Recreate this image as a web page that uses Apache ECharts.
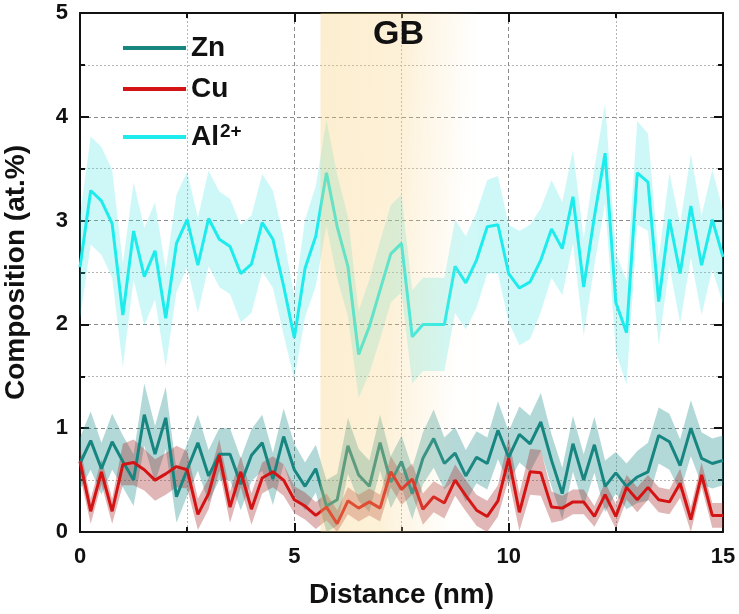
<!DOCTYPE html>
<html>
<head>
<meta charset="utf-8">
<script src="https://cdn.jsdelivr.net/npm/echarts@6/dist/echarts.min.js"></script>
<style>html,body{margin:0;padding:0;background:#fff;}#c{width:739px;height:614px;}</style>
</head>
<body>
<div id="c"></div>
<script>
const distance = [0,0.25,0.5,0.75,1,1.25,1.5,1.75,2,2.25,2.5,2.75,3,3.25,3.5,3.75,4,4.25,4.5,4.75,5,5.25,5.5,5.75,6,6.25,6.5,6.75,7,7.25,7.5,7.75,8,8.25,8.5,8.75,9,9.25,9.5,9.75,10,10.25,10.5,10.75,11,11.25,11.5,11.75,12,12.25,12.5,12.75,13,13.25,13.5,13.75,14,14.25,14.5,14.75,15];

const zn = [0.66,0.88,0.61,0.87,0.68,0.50,1.13,0.75,1.10,0.34,0.60,0.86,0.54,0.75,0.75,0.46,0.74,0.86,0.51,0.92,0.60,0.44,0.61,0.25,0.31,0.83,0.55,0.44,0.86,0.48,0.68,0.37,0.71,0.90,0.66,0.76,0.54,0.72,0.66,0.98,0.72,0.94,0.85,1.06,0.69,0.37,0.85,0.50,0.84,0.44,0.57,0.44,0.53,0.58,0.93,0.87,0.64,1.00,0.71,0.66,0.69];
const znErr = [0.25,0.28,0.25,0.27,0.25,0.25,0.30,0.27,0.30,0.25,0.25,0.27,0.25,0.25,0.25,0.25,0.25,0.27,0.25,0.27,0.25,0.23,0.23,0.25,0.25,0.27,0.25,0.25,0.27,0.25,0.25,0.25,0.25,0.28,0.25,0.25,0.25,0.25,0.25,0.28,0.25,0.27,0.27,0.28,0.25,0.25,0.27,0.25,0.27,0.25,0.20,0.22,0.25,0.28,0.27,0.27,0.25,0.27,0.25,0.24,0.24];

const cu = [0.68,0.20,0.58,0.20,0.65,0.67,0.60,0.50,0.56,0.63,0.60,0.17,0.37,0.74,0.24,0.58,0.22,0.52,0.58,0.50,0.31,0.25,0.16,0.24,0.08,0.30,0.23,0.29,0.23,0.58,0.41,0.51,0.22,0.34,0.28,0.50,0.35,0.21,0.15,0.30,0.71,0.19,0.58,0.57,0.24,0.23,0.29,0.29,0.15,0.36,0.15,0.43,0.31,0.43,0.31,0.29,0.47,0.12,0.55,0.16,0.16];
const cuErr = [0.14,0.12,0.12,0.12,0.20,0.22,0.20,0.20,0.20,0.20,0.18,0.15,0.15,0.15,0.15,0.15,0.15,0.15,0.15,0.15,0.13,0.13,0.13,0.13,0.13,0.13,0.13,0.13,0.13,0.15,0.15,0.15,0.15,0.15,0.15,0.15,0.15,0.15,0.15,0.15,0.20,0.18,0.22,0.22,0.15,0.12,0.12,0.12,0.10,0.12,0.12,0.12,0.12,0.12,0.12,0.12,0.14,0.12,0.12,0.12,0.12];

const al = [2.55,3.29,3.19,2.97,2.09,2.90,2.46,2.71,2.06,2.78,3.01,2.57,3.02,2.82,2.75,2.49,2.58,2.98,2.82,2.37,1.87,2.54,2.85,3.46,2.94,2.56,1.71,1.98,2.33,2.68,2.78,1.88,2.00,2.00,2.00,2.56,2.40,2.62,2.94,2.96,2.49,2.35,2.41,2.62,2.92,2.73,3.23,2.36,3.04,3.65,2.21,1.92,3.46,3.37,2.22,3.01,2.49,3.14,2.57,3.01,2.65];
const alErr = [0.50,0.52,0.52,0.52,0.50,0.47,0.47,0.47,0.47,0.47,0.46,0.46,0.46,0.46,0.46,0.47,0.47,0.47,0.47,0.47,0.40,0.47,0.48,0.51,0.50,0.48,0.42,0.45,0.47,0.47,0.47,0.45,0.45,0.45,0.45,0.45,0.45,0.46,0.45,0.47,0.47,0.55,0.55,0.50,0.47,0.45,0.45,0.47,0.47,0.48,0.48,0.50,0.50,0.47,0.42,0.45,0.48,0.50,0.48,0.48,0.45];

const gbStart = 5.61;
const gbEnd = 9.25;
const gbLabel = 'GB';

const FONT = "'Liberation Sans', Arial, sans-serif";
const chart = echarts.init(document.getElementById('c'), null, {renderer: 'canvas'});

function bandSeries(name, vals, errs, fill) {
  return {
    type: 'custom', name: name, silent: true, z: 1,
    data: [[0, 0]],
    encode: {x: 0, y: 1},
    renderItem: function (params, api) {
      const up = distance.map((x, i) => api.coord([x, vals[i] + errs[i]]));
      const lo = distance.map((x, i) => api.coord([x, Math.max(0, vals[i] - errs[i])])).reverse();
      return {type: 'polygon', shape: {points: up.concat(lo)}, style: {fill: fill}, silent: true};
    }
  };
}
function lineSeries(name, vals, color) {
  return {
    type: 'line', name: name, z: 3,
    data: distance.map((x, i) => [x, vals[i]]),
    symbol: 'none', showSymbol: false,
    lineStyle: {color: color, width: 3},
    itemStyle: {color: color},
    animation: false
  };
}

const legendBase = {
  orient: 'vertical', left: 123, padding: 0, itemWidth: 63, itemHeight: 4, icon: 'rect',
  selectedMode: false,
  textStyle: {fontSize: 28, fontWeight: 'bold', fontFamily: FONT, color: '#111', lineHeight: 30}
};

const option = {
  animation: false,
  backgroundColor: '#fff',
  grid: {left: 80, right: 16, top: 13, bottom: 82, containLabel: false, outerBoundsMode: 'none'},
  legend: [
    Object.assign({}, legendBase, {data: ['Zn'], top: 33}),
    Object.assign({}, legendBase, {data: ['Cu'], top: 74}),
    Object.assign({}, legendBase, {data: ['Al2+'], top: 122,
      formatter: function () { return '{a|Al}{s|2+}'; },
      textStyle: {fontSize: 28, fontWeight: 'bold', fontFamily: FONT, color: '#111', lineHeight: 30,
        rich: {
          a: {fontSize: 28, fontWeight: 'bold', fontFamily: FONT, color: '#111', lineHeight: 30},
          s: {fontSize: 19, fontWeight: 'bold', fontFamily: FONT, color: '#111', lineHeight: 18, verticalAlign: 'top', padding: [0, 0, 0, 1]}
        }}
    })
  ],
  xAxis: [
    {
      type: 'value', min: 0, max: 15, interval: 5, position: 'bottom',
      name: 'Distance (nm)', nameLocation: 'middle', nameGap: 49,
      nameTextStyle: {fontSize: 28, fontWeight: 'bold', fontFamily: FONT, color: '#111'},
      axisLine: {show: true, onZero: false, lineStyle: {color: '#111', width: 2}},
      axisTick: {show: true, inside: true, length: 9, lineStyle: {color: '#111', width: 2}},
      minorTick: {show: true, splitNumber: 2, length: 5, lineStyle: {color: '#111', width: 2}},
      axisLabel: {fontSize: 22, fontWeight: 'bold', fontFamily: FONT, color: '#111', margin: 14},
      splitLine: {show: true, lineStyle: {color: '#8a8a8a', width: 1, type: [4, 3]}},
      minorSplitLine: {show: true, lineStyle: {color: '#b5b5b5', width: 1, type: [2, 2]}}
    },
    {
      type: 'value', min: 0, max: 15, interval: 5, position: 'top',
      axisLine: {show: true, onZero: false, lineStyle: {color: '#111', width: 2}},
      axisTick: {show: true, inside: true, length: 9, lineStyle: {color: '#111', width: 2}},
      minorTick: {show: true, splitNumber: 2, length: 5, lineStyle: {color: '#111', width: 2}},
      axisLabel: {show: false}, splitLine: {show: false}
    }
  ],
  yAxis: [
    {
      type: 'value', min: 0, max: 5, interval: 1, position: 'left',
      name: 'Composition (at.%)', nameLocation: 'middle', nameGap: 50,
      nameTextStyle: {fontSize: 28, fontWeight: 'bold', fontFamily: FONT, color: '#111'},
      axisLine: {show: true, onZero: false, lineStyle: {color: '#111', width: 2}},
      axisTick: {show: true, inside: true, length: 9, lineStyle: {color: '#111', width: 2}},
      minorTick: {show: true, splitNumber: 2, length: 5, lineStyle: {color: '#111', width: 2}},
      axisLabel: {fontSize: 22, fontWeight: 'bold', fontFamily: FONT, color: '#111', margin: 12},
      splitLine: {show: true, lineStyle: {color: '#8a8a8a', width: 1, type: [4, 3]}},
      minorSplitLine: {show: true, lineStyle: {color: '#b5b5b5', width: 1, type: [2, 2]}}
    },
    {
      type: 'value', min: 0, max: 5, interval: 1, position: 'right',
      axisLine: {show: true, onZero: false, lineStyle: {color: '#111', width: 2}},
      axisTick: {show: true, inside: true, length: 9, lineStyle: {color: '#111', width: 2}},
      minorTick: {show: true, splitNumber: 2, length: 5, lineStyle: {color: '#111', width: 2}},
      axisLabel: {show: false}, splitLine: {show: false}
    }
  ],
  series: [
    bandSeries('alBand', al, alErr, 'rgba(60,228,228,0.25)'),
    bandSeries('znBand', zn, znErr, 'rgba(30,140,140,0.34)'),
    bandSeries('cuBand', cu, cuErr, 'rgba(165,40,40,0.34)'),
    lineSeries('Zn', zn, '#178580'),
    lineSeries('Cu', cu, '#d41414'),
    lineSeries('Al2+', al, '#1eecec'),
    {
      type: 'custom', name: 'GB', silent: true, z: 6,
      data: [[gbStart, gbEnd]],
      encode: {x: [0, 1]},
      renderItem: function (params, api) {
        const p0 = api.coord([api.value(0), 5]);
        const p1 = api.coord([api.value(1), 0]);
        const w = p1[0] - p0[0], h = p1[1] - p0[1];
        return {
          type: 'group',
          children: [
            {type: 'rect', shape: {x: p0[0], y: p0[1], width: w, height: h},
              style: {fill: {
                type: 'linear', global: true,
                x: p0[0], y: p0[1], x2: p1[0], y2: p0[1] + 8,
                colorStops: [
                  {offset: 0, color: 'rgba(246,204,115,0.34)'},
                  {offset: 0.55, color: 'rgba(247,208,125,0.30)'},
                  {offset: 0.85, color: 'rgba(250,220,160,0.14)'},
                  {offset: 1, color: 'rgba(255,235,200,0.03)'}
                ]
              }}},
            {type: 'text', x: p0[0] + w / 2, y: p0[1] + 5,
              style: {text: gbLabel, fontSize: 34, fontWeight: 'bold', fontFamily: FONT, fill: '#111', align: 'center', verticalAlign: 'top'}}
          ]
        };
      }
    }
  ]
};
chart.setOption(option);
</script>
</body>
</html>
